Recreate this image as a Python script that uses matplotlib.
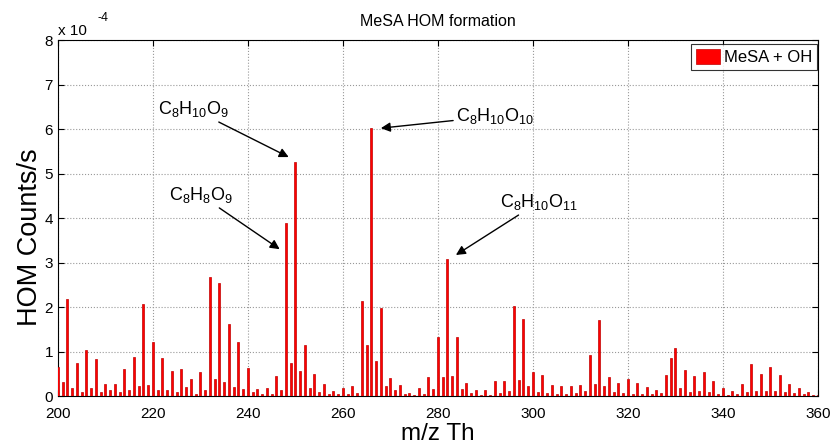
import numpy as np
import matplotlib
matplotlib.use("Agg")
import matplotlib.pyplot as plt

plt.rcParams['font.family'] = ['Liberation Sans', 'DejaVu Sans']
plt.rcParams['mathtext.fontset'] = 'custom'
plt.rcParams['mathtext.rm'] = 'Liberation Sans'
plt.rcParams['mathtext.it'] = 'Liberation Sans'

# m/z 200..360, HOM counts/s in units of 1e-4
mz = np.arange(200, 361)
counts_e4 = [
    0.65, 0.32, 2.19, 0.19, 0.75, 0.10, 1.04, 0.19, 0.84, 0.10,   # 200-209
    0.26, 0.14, 0.28, 0.10, 0.60, 0.13, 0.88, 0.22, 2.07, 0.25,   # 210-219
    1.22, 0.14, 0.85, 0.13, 0.56, 0.08, 0.60, 0.20, 0.38, 0.05,   # 220-229
    0.53, 0.13, 2.68, 0.38, 2.53, 0.31, 1.61, 0.20, 1.22, 0.15,   # 230-239
    0.62, 0.08, 0.16, 0.05, 0.17, 0.05, 0.44, 0.13, 3.90, 0.74,   # 240-249
    5.27, 0.56, 1.15, 0.17, 0.50, 0.08, 0.26, 0.05, 0.11, 0.05,   # 250-259
    0.17, 0.05, 0.23, 0.07, 2.14, 1.14, 6.03, 0.78, 1.98, 0.23,   # 260-269
    0.40, 0.13, 0.24, 0.05, 0.07, 0.02, 0.17, 0.05, 0.43, 0.16,   # 270-279
    1.32, 0.43, 3.08, 0.45, 1.32, 0.16, 0.29, 0.06, 0.14, 0.02,   # 280-289
    0.14, 0.02, 0.33, 0.06, 0.34, 0.11, 2.02, 0.35, 1.74, 0.23,   # 290-299
    0.54, 0.08, 0.47, 0.07, 0.25, 0.05, 0.23, 0.05, 0.23, 0.06,   # 300-309
    0.25, 0.11, 0.92, 0.28, 1.71, 0.23, 0.42, 0.08, 0.29, 0.06,   # 310-319
    0.39, 0.05, 0.29, 0.04, 0.20, 0.05, 0.14, 0.06, 0.48, 0.85,   # 320-329
    1.08, 0.19, 0.58, 0.08, 0.45, 0.11, 0.55, 0.09, 0.33, 0.04,   # 330-339
    0.17, 0.02, 0.11, 0.05, 0.26, 0.09, 0.72, 0.11, 0.50, 0.11,   # 340-349
    0.65, 0.12, 0.47, 0.08, 0.26, 0.06, 0.17, 0.04, 0.09, 0.03,   # 350-359
    0.02,                                                         # 360
]
counts = np.array(counts_e4) * 1e-4

labels = [r'$\mathrm{C_8H_{10}O_9}$', r'$\mathrm{C_8H_{10}O_{10}}$',
          r'$\mathrm{C_8H_8O_9}$', r'$\mathrm{C_8H_{10}O_{11}}$']
label_mz = [250, 266, 248, 282]

fig = plt.figure(figsize=(8.38, 4.45), dpi=100)
ax = fig.add_axes([0.069, 0.110, 0.907, 0.800])

ax.bar(mz, counts, width=0.45, color='#ff0000', edgecolor='#c00000',
       linewidth=0.5, label='MeSA + OH', zorder=3)

ax.set_xlim(200, 360)
ax.set_ylim(0, 8e-4)
ax.set_xticks(np.arange(200, 361, 20))
ax.set_yticks(np.arange(0, 9) * 1e-4)
ax.set_yticklabels([str(i) for i in range(9)])
ax.tick_params(direction='in', top=True, right=True, labelsize=11, length=4)
ax.tick_params(axis='x', pad=8)
ax.grid(True, linestyle=':', color='#999999', linewidth=0.8, zorder=0)
for s in ax.spines.values():
    s.set_linewidth(0.8)

ax.text(0.0, 1.005, 'x 10', transform=ax.transAxes, fontsize=11,
        ha='left', va='bottom')
ax.text(0.052, 1.045, '-4', transform=ax.transAxes, fontsize=9,
        ha='left', va='bottom')

ax.set_title('MeSA HOM formation', fontsize=11.5, pad=10)
ax.set_xlabel('m/z Th', fontsize=17.5, labelpad=1)
ax.set_ylabel('HOM Counts/s', fontsize=19.5)
ax.yaxis.set_label_coords(-0.019, 0.447)

ap = dict(arrowstyle='-|>', color='black', lw=1, mutation_scale=14,
          shrinkA=0, shrinkB=0)
# text positions / arrow tails in data units (x, y*1e-4)
ax.annotate(labels[0], xy=(label_mz[0] - 1.4, 5.37e-4), xytext=(236, 6.22e-4),
            arrowprops=ap, fontsize=13, ha='right', va='bottom')
ax.annotate(labels[1], xy=(label_mz[1] + 2, 6.02e-4), xytext=(283.8, 6.29e-4),
            arrowprops=ap, fontsize=13, ha='left', va='center')
ax.annotate(labels[2], xy=(label_mz[2] - 1.3, 3.30e-4), xytext=(236.8, 4.29e-4),
            arrowprops=ap, fontsize=13, ha='right', va='bottom')
ax.annotate(labels[3], xy=(label_mz[3] + 1.8, 3.17e-4), xytext=(293, 4.13e-4),
            arrowprops=ap, fontsize=13, ha='left', va='bottom')

leg = ax.legend(loc='upper right', bbox_to_anchor=(0.9987, 0.9888),
                fontsize=12, frameon=True, fancybox=False,
                edgecolor='black', borderaxespad=0, handlelength=1.45,
                handleheight=1.0, borderpad=0.3, handletextpad=0.2)
leg.get_frame().set_linewidth(0.8)

fig.savefig('out.png', dpi=100)
